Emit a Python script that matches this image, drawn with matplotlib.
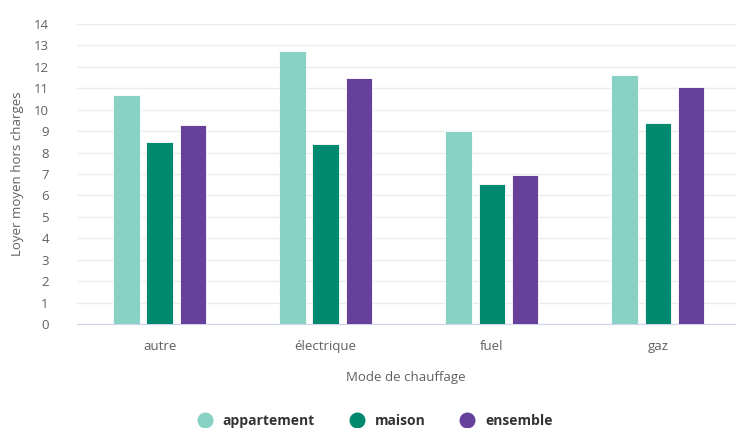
import numpy as np
import matplotlib.pyplot as plt
from matplotlib.lines import Line2D

plt.rcParams['font.family'] = ['Open Sans', 'DejaVu Sans']

# données
categories = ['autre', 'électrique', 'fuel', 'gaz']
series_names = ['appartement', 'maison', 'ensemble']
appartement = [10.67, 12.73, 9.02, 11.61]
maison = [8.49, 8.42, 6.55, 9.38]
ensemble = [9.30, 11.49, 6.97, 11.07]
colors = ['#88d1c4', '#00896f', '#66409b']

fig = plt.figure(figsize=(7.36, 4.28), dpi=100)
ax = fig.add_axes([0.104, 0.2423, 0.896, 0.7023])

x = np.arange(len(categories))
w = 0.16
for i, (vals, col) in enumerate(zip([appartement, maison, ensemble], colors)):
    ax.bar(x + (i - 1) * 0.2, vals, width=w, color=col, edgecolor='white',
           linewidth=0.6, zorder=3)

ax.set_xlim(-0.5, 3.47)
ax.set_ylim(0, 14)
ax.set_yticks(range(0, 15))
ax.set_xticks(x)
ax.set_xticklabels(categories)
ax.grid(axis='y', color='#ebebeb', linewidth=1, zorder=0)
for s in ['top', 'right', 'left']:
    ax.spines[s].set_visible(False)
ax.spines['bottom'].set_color('#ccd6eb')
ax.tick_params(axis='both', length=0, colors='#606060', labelsize=9.5)
ax.tick_params(axis='x', pad=11)
ax.tick_params(axis='y', pad=20)

ax.set_xlabel('Mode de chauffage', color='#606060', fontsize=9.5, labelpad=13)
ax.set_ylabel('Loyer moyen hors charges', color='#606060', fontsize=9.5, labelpad=7)

handles = [Line2D([], [], marker='o', linestyle='', markersize=10.5,
                  markerfacecolor=c, markeredgecolor=c) for c in colors]
leg = fig.legend(handles, series_names, loc='center', bbox_to_anchor=(0.505, 0.016),
                 ncol=3, frameon=False, handletextpad=0.3, columnspacing=2.0,
                 prop={'weight': 'bold', 'size': 10})
for t in leg.get_texts():
    t.set_color('#333333')

fig.savefig('out.png', dpi=100)
